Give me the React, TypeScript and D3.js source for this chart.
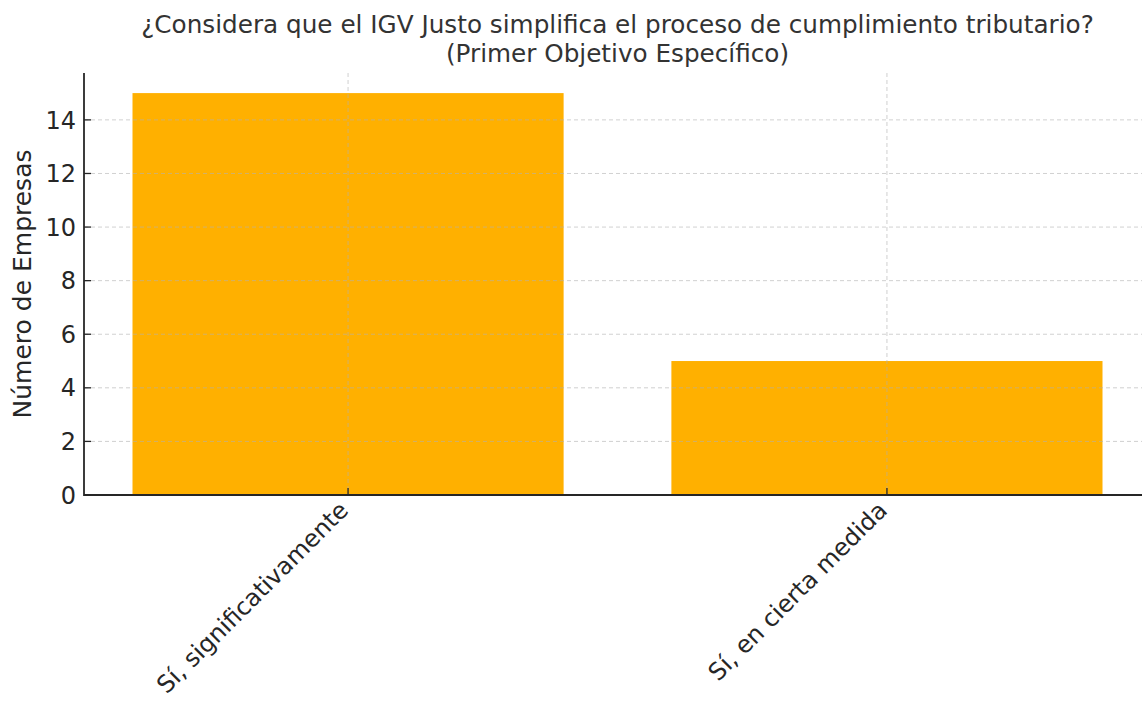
import React from 'react';
import * as d3 from 'd3';

const categories = ['Sí, significativamente', 'Sí, en cierta medida'];
const counts = [15, 5];
const yTicks = [0, 2, 4, 6, 8, 10, 12, 14];
const titleLines = [
  '¿Considera que el IGV Justo simplifica el proceso de cumplimiento tributario?',
  '(Primer Objetivo Específico)',
];
const yLabel = 'Número de Empresas';

const W = 1142, H = 702;
const margin = { top: 73, left: 84, bottom: 495, right: 1151 };
const font = 'DejaVu Sans, sans-serif';

const App = () => {
  const x = d3.scaleBand<string>()
    .domain(categories)
    .range([margin.left, margin.right])
    .paddingInner(0.2)
    .paddingOuter(0.09);

  const y = d3.scaleLinear()
    .domain([0, 15.75])
    .range([margin.bottom, margin.top]);

  const cx = (margin.left + margin.right) / 2;

  return (
    <svg width={W} height={H} style={{ position: 'absolute', left: 0, top: 0, background: '#fff' }}
      fontFamily={font}>
      {/* bars */}
      {categories.map((c, i) => (
        <rect key={c} x={x(c)} y={y(counts[i])} width={x.bandwidth()}
          height={y(0) - y(counts[i])} fill="#ffb000" />
      ))}

      {/* grid, drawn over bars */}
      <g stroke="#b0b0b0" strokeOpacity={0.6} strokeDasharray="4,3" strokeWidth={1}>
        {yTicks.slice(1).map(t => (
          <line key={t} x1={margin.left} x2={W} y1={y(t)} y2={y(t)} />
        ))}
        {categories.map(c => {
          const px = x(c)! + x.bandwidth() / 2;
          return <line key={c} x1={px} x2={px} y1={margin.top} y2={margin.bottom} />;
        })}
      </g>

      {/* spines */}
      <line x1={margin.left} x2={margin.left} y1={margin.top} y2={margin.bottom + 1}
        stroke="#262626" strokeWidth={1.8} />
      <line x1={margin.left} x2={W} y1={margin.bottom} y2={margin.bottom}
        stroke="#262626" strokeWidth={1.8} />

      {/* y ticks */}
      {yTicks.map(t => (
        <g key={t}>
          <line x1={margin.left} x2={margin.left + 7} y1={y(t)} y2={y(t)} stroke="#262626" strokeWidth={1.3} />
          <text x={margin.left - 8} y={y(t)} dy="0.36em" textAnchor="end" fontSize={24} fill="#262626">{t}</text>
        </g>
      ))}

      {/* x ticks */}
      {categories.map(c => {
        const px = x(c)! + x.bandwidth() / 2;
        return (
          <g key={c}>
            <line x1={px} x2={px} y1={margin.bottom} y2={margin.bottom - 7} stroke="#262626" strokeWidth={1.3} />
            <text transform={`translate(${px - 11},${margin.bottom + 4}) rotate(-45)`}
              textAnchor="end" dy="0.75em" fontSize={24} fill="#262626">{c}</text>
          </g>
        );
      })}

      {/* y label */}
      <text transform={`translate(31,${(margin.top + margin.bottom) / 2}) rotate(-90)`}
        textAnchor="middle" fontSize={25} fill="#262626">{yLabel}</text>

      {/* title */}
      {titleLines.map((t, i) => (
        <text key={i} x={cx} y={33 + i * 29} textAnchor="middle" fontSize={24.7} fill="#333">{t}</text>
      ))}
    </svg>
  );
};

export default App;
